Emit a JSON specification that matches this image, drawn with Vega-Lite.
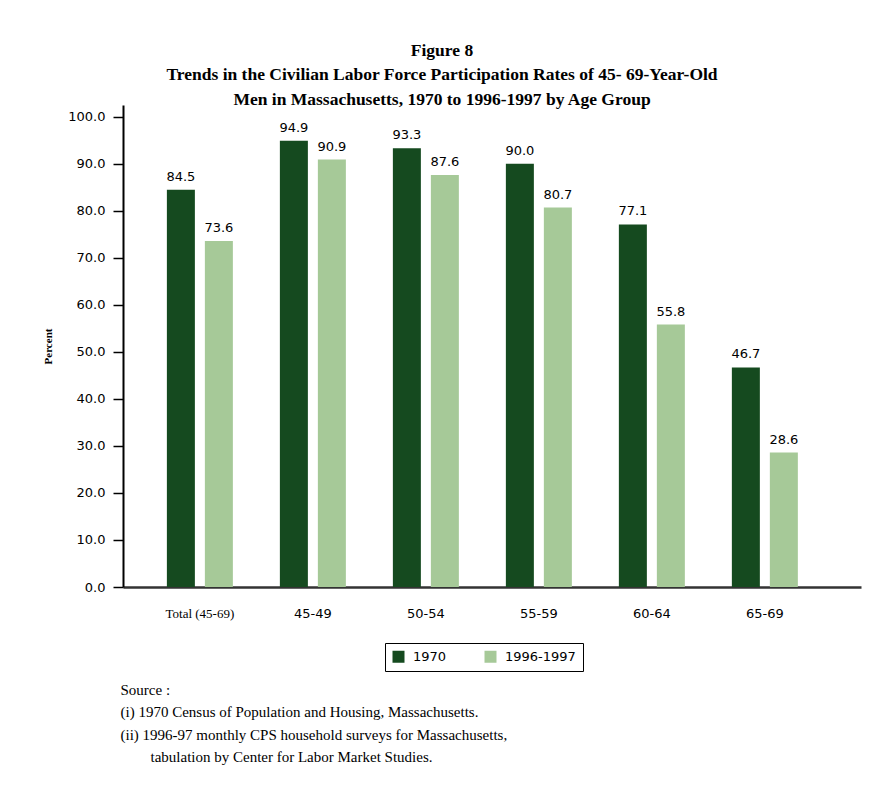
{
  "$schema": "https://vega.github.io/schema/vega-lite/v6.json",
  "width": 738,
  "height": 482,
  "autosize": {"type": "none"},
  "padding": {"left": 123, "top": 105, "right": 8, "bottom": 208},
  "background": "white",
  "title": {
    "text": ["Figure 8", "Trends in the Civilian Labor Force Participation Rates of 45- 69-Year-Old", "Men in Massachusetts, 1970 to 1996-1997 by Age Group"],
    "font": "Liberation Serif",
    "fontSize": 17.5,
    "fontWeight": "bold",
    "lineHeight": 24.5,
    "anchor": "middle",
    "dx": -50,
    "offset": -3,
    "color": "black"
  },
  "data": {
    "values": [
      {"group": "Total (45-69)", "year": "1970", "value": 84.5},
      {"group": "Total (45-69)", "year": "1996-1997", "value": 73.6},
      {"group": "45-49", "year": "1970", "value": 94.9},
      {"group": "45-49", "year": "1996-1997", "value": 90.9},
      {"group": "50-54", "year": "1970", "value": 93.3},
      {"group": "50-54", "year": "1996-1997", "value": 87.6},
      {"group": "55-59", "year": "1970", "value": 90.0},
      {"group": "55-59", "year": "1996-1997", "value": 80.7},
      {"group": "60-64", "year": "1970", "value": 77.1},
      {"group": "60-64", "year": "1996-1997", "value": 55.8},
      {"group": "65-69", "year": "1970", "value": 46.7},
      {"group": "65-69", "year": "1996-1997", "value": 28.6}
    ]
  },
  "encoding": {
    "x": {
      "field": "group",
      "type": "nominal",
      "sort": ["Total (45-69)", "45-49", "50-54", "55-59", "60-64", "65-69"],
      "scale": {"paddingInner": 0.416, "paddingOuter": 0.4736, "align": 0.41},
      "axis": {
        "title": ["Source :", "(i) 1970 Census of Population and Housing, Massachusetts.", "(ii) 1996-97 monthly CPS household surveys for Massachusetts,", "\u200b\u00a0\u00a0\u00a0\u00a0\u00a0\u00a0\u00a0\u00a0tabulation by Center for Labor Market Studies."],
        "titleFont": "Liberation Serif",
        "titleFontSize": 15,
        "titleFontWeight": "normal",
        "titleColor": "black",
        "titleLineHeight": 22.5,
        "titleAnchor": "start",
        "titleAlign": "left",
        "titleBaseline": "top",
        "titleX": -3,
        "titleY": 95,
        "labelAngle": 0,
        "ticks": false,
        "tickSize": 0,
        "labelPadding": 20,
        "labelFont": {"condition": {"test": "datum.label == 'Total (45-69)'", "value": "Liberation Serif"}, "value": "DejaVu Sans"},
        "labelFontSize": 13,
        "labelColor": "black",
        "domainColor": "#333333",
        "domainWidth": 2.5
      }
    },
    "xOffset": {
      "field": "year",
      "type": "nominal",
      "scale": {"paddingInner": 0.263, "paddingOuter": 0}
    },
    "y": {
      "field": "value",
      "type": "quantitative",
      "scale": {"domain": [0, 102.5], "nice": false},
      "axis": {
        "values": [0, 10, 20, 30, 40, 50, 60, 70, 80, 90, 100],
        "format": ".1f",
        "title": "Percent",
        "titleFont": "Liberation Serif",
        "titleFontSize": 11,
        "titleFontWeight": "bold",
        "titleColor": "black",
        "titlePadding": 14,
        "grid": false,
        "tickSize": 10,
        "tickWidth": 1.5,
        "tickColor": "black",
        "labelPadding": 8,
        "labelFont": "DejaVu Sans",
        "labelFontSize": 13,
        "labelColor": "black",
        "domainColor": "black",
        "domainWidth": 2
      }
    }
  },
  "layer": [
    {
      "mark": {"type": "bar"},
      "encoding": {
        "color": {
          "field": "year",
          "type": "nominal",
          "scale": {"domain": ["1970", "1996-1997"], "range": ["#154a1f", "#a6c998"]},
          "legend": {
            "orient": "none",
            "legendX": 262,
            "legendY": 538,
            "direction": "horizontal",
            "title": null,
            "strokeColor": "black",
            "fillColor": "white",
            "padding": 7,
            "symbolType": "square",
            "symbolSize": 144,
            "symbolStrokeWidth": 0,
            "labelFont": "DejaVu Sans",
            "labelFontSize": 13,
            "labelColor": "black",
            "labelOffset": 8,
            "columnPadding": 37
          }
        }
      }
    },
    {
      "mark": {"type": "text", "baseline": "alphabetic", "dy": -9, "font": "DejaVu Sans", "fontSize": 13, "color": "black"},
      "encoding": {
        "text": {"field": "value", "type": "quantitative", "format": ".1f"}
      }
    }
  ],
  "config": {"view": {"stroke": null}}
}
